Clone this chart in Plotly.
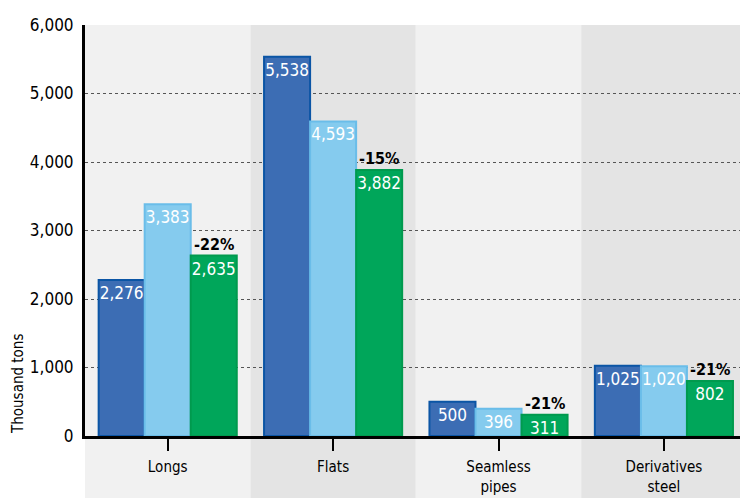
import plotly.graph_objects as go

categories = ["Longs", "Flats", "Seamless<br>pipes", "Derivatives<br>steel"]
series_a = [2276, 5538, 500, 1025]
series_b = [3383, 4593, 396, 1020]
series_c = [2635, 3882, 311, 802]
changes = ["-22%", "-15%", "-21%", "-21%"]
yticks = [0, 1000, 2000, 3000, 4000, 5000, 6000]

FONT = "Liberation Sans Narrow, DejaVu Sans Condensed, Roboto Condensed, Arial Narrow, Roboto, sans-serif"

fills = ["#3c6db4", "#85cbee", "#00a65a"]
borders = ["#0b55a5", "#6abde9", "#009a4e"]

fig = go.Figure()
for vals, fc, bc in zip([series_a, series_b, series_c], fills, borders):
    fig.add_trace(go.Bar(
        x=categories, y=vals,
        marker=dict(color=fc, line=dict(color=bc, width=2)),
        texttemplate="%{y:,}", textposition="inside", insidetextanchor="end",
        textangle=0, constraintext="none",
        textfont=dict(family=FONT, size=17, color="white"),
        showlegend=False, hoverinfo="skip",
    ))

# background bands
band_colors = ["#f1f1f1", "#e4e4e4", "#f1f1f1", "#e4e4e4"]
for i, c in enumerate(band_colors):
    fig.add_shape(type="rect", xref="x", yref="paper", x0=i - 0.5, x1=i + 0.5,
                  y0=-0.2, y1=1, fillcolor=c, line=dict(width=0), layer="below")

for i, (cat, v, t) in enumerate(zip(categories, series_c, changes)):
    fig.add_annotation(x=i, y=v, xref="x", yref="y", text="<b>" + t + "</b>",
                       showarrow=False, xshift=46, yanchor="bottom", yshift=0,
                       font=dict(family=FONT, size=16, color="black"))

fig.add_annotation(x=0, xref="paper", y=0, yref="y", xshift=-67, text="Thousand tons",
                   textangle=-90, showarrow=False, yanchor="bottom", xanchor="center",
                   font=dict(family=FONT, size=15, color="black"))

fig.update_layout(
    width=740, height=498,
    margin=dict(l=85, r=0, t=25, b=62),
    paper_bgcolor="white", plot_bgcolor="rgba(0,0,0,0)",
    barmode="group", bargap=0.165, bargroupgap=0,
    font=dict(family=FONT, color="black"),
)
fig.update_xaxes(range=[-0.5, 3.46], showline=True, linecolor="black", linewidth=3,
                 ticks="outside", ticklen=12, tickwidth=2, tickcolor="black",
                 tickfont=dict(family=FONT, size=15), showgrid=False, zeroline=False,
                 ticklabelstandoff=3)
fig.update_yaxes(range=[0, 6000], tickvals=yticks, tickformat=",", showline=True,
                 linecolor="black", linewidth=3, showgrid=True, gridcolor="#555555",
                 griddash="dot", gridwidth=1, zeroline=False,
                 tickfont=dict(family=FONT, size=17), ticks="", ticklabelstandoff=5)

fig.write_html("out.html")
